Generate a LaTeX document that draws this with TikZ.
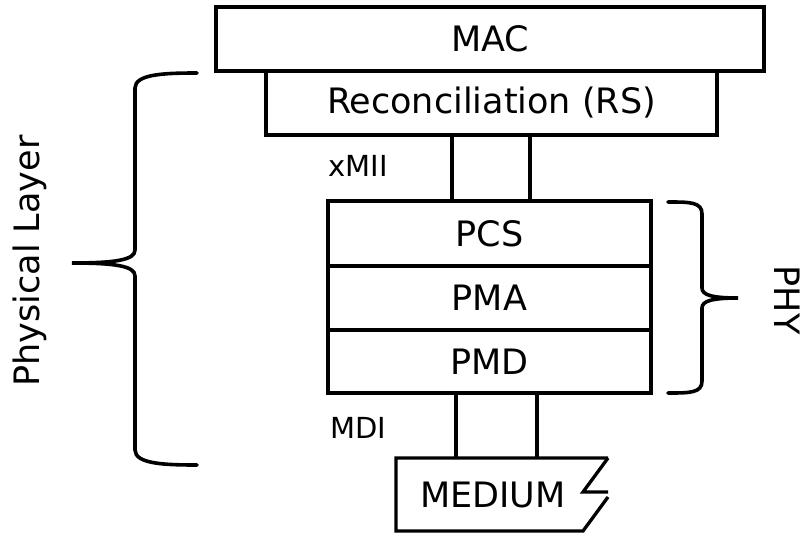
\documentclass[tikz,border=0pt]{standalone}
\usepackage{fontspec}
\setmainfont{DejaVu Sans}
\begin{document}
\begin{tikzpicture}[x=1pt,y=-1pt]

\tikzstyle{layer}=[shape=rectangle, draw, line width=3.3pt,
    inner sep=0pt, outer sep=0pt, font=\fontsize{35}{42}\selectfont]
\tikzstyle{tag}=[inner sep=0pt, font=\fontsize{29}{35}\selectfont]
\tikzstyle{side}=[inner sep=0pt, font=\fontsize{35}{42}\selectfont]
\tikzstyle{curly}=[line width=3.6pt, line cap=round]

  \useasboundingbox (0,0) rectangle (805,535);

  \node[layer, minimum width=548pt, minimum height=64pt] (mac) at (490,39) {MAC};
  \node[layer, minimum width=451pt, minimum height=64pt] (rs) at (491.5,103) {Reconciliation (RS)};

  \node[layer, minimum width=323pt, minimum height=65pt] (pcs) at (489.5,233.5) {PCS};
  \node[layer, minimum width=323pt, minimum height=64pt] (pma) at (489.5,298) {PMA};
  \node[layer, minimum width=323pt, minimum height=63pt] (pmd) at (489.5,361.5) {PMD};

  % medium
  \node[side] (medium) at (493,494.5) {MEDIUM};
  \coordinate (medtop) at (502,458);
  \draw[line width=3.3pt, line join=miter] (608,458) -- (396,458) -- (396,531) -- (583,531) -- (608,497);
  \draw[line width=3.3pt, line join=miter] (608,458) -- (583,492) -- (608,492);

  % xMII
  \coordinate (xmiiA) at (452,0);
  \coordinate (xmiiB) at (530,0);
  \draw[line width=3.3pt] (rs.south -| xmiiA) -- (pcs.north -| xmiiA);
  \draw[line width=3.3pt] (rs.south -| xmiiB) -- (pcs.north -| xmiiB);
  \node[tag] (xmii) at (358,166) {xMII};

  % MDI
  \coordinate (mdiA) at (456,0);
  \coordinate (mdiB) at (537,0);
  \draw[line width=3.3pt] (pmd.south -| mdiA) -- (medtop -| mdiA);
  \draw[line width=3.3pt] (pmd.south -| mdiB) -- (medtop -| mdiB);
  \node[tag] (mdi) at (358,428) {MDI};

  % physical layer
  \draw[curly] (197,73) .. controls (165,73) and (135,74) .. (135,88) -- (135,250)
    .. controls (135,260) and (115,263) .. (72,263)
    .. controls (115,263) and (135,266) .. (135,276) -- (135,450)
    .. controls (135,464) and (165,465) .. (197,465);
  \node[side, rotate=90] (physlabel) at (30,261) {Physical Layer};

  % phy
  \draw[curly] (668,202) .. controls (690,202) and (702,202) .. (702,214) -- (702,288)
    .. controls (702,295) and (712,298) .. (738,298)
    .. controls (712,298) and (702,301) .. (702,308) -- (702,381)
    .. controls (702,393) and (690,393) .. (668,393);
  \node[side, rotate=-90] (phylabel) at (787,300) {PHY};

\end{tikzpicture}
\end{document}
